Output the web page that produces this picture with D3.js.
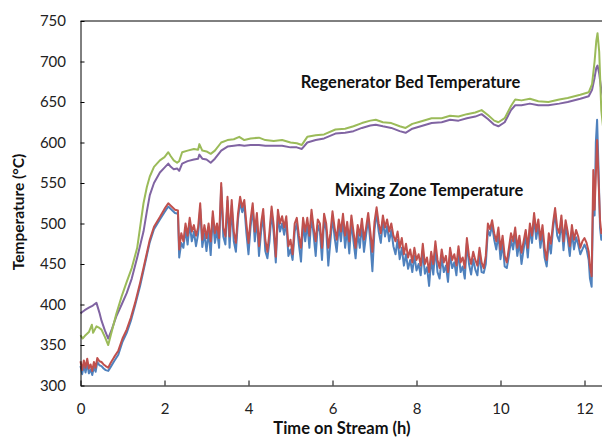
<!DOCTYPE html>
<html>
<head>
<meta charset="utf-8">
<script src="https://cdn.jsdelivr.net/npm/d3@7"></script>
<style>
  body { margin: 0; background: #fff; }
  svg { display: block; font-family: Lato, "Open Sans", sans-serif; }
  .tick text { font-size: 15px; fill: #222; }
  .axis-label, .series-label { font-weight: bold; font-size: 16.5px; fill: #111; }
</style>
</head>
<body>
<div id="chart"></div>
<script>
// Regenerator bed: shared sample times (h), green and purple thermocouples (°C)
const bedTime = [
  0, 0.05, 0.1, 0.2, 0.27, 0.3, 0.38, 0.45, 0.5, 0.58,
  0.66, 0.75, 0.85, 0.98, 1.1, 1.22, 1.35, 1.5, 1.58, 1.65,
  1.75, 1.89, 2.0, 2.09, 2.15, 2.22, 2.3, 2.35, 2.42, 2.55,
  2.7, 2.8, 2.83, 2.9, 3.0, 3.1, 3.2, 3.35, 3.5, 3.65,
  3.78, 3.9, 4.05, 4.25, 4.4, 4.6, 4.8, 5.0, 5.15, 5.27,
  5.4, 5.6, 5.8, 6.07, 6.3, 6.5, 6.7, 6.9, 7.03, 7.2,
  7.4, 7.6, 7.74, 7.9, 8.1, 8.36, 8.6, 8.8, 9.0, 9.2,
  9.4, 9.55, 9.7, 9.85, 9.95, 10.1, 10.25, 10.35, 10.5, 10.7,
  10.9, 11.14, 11.4, 11.6, 11.9, 12.1, 12.18, 12.24, 12.28, 12.31,
  12.35, 12.4, 12.45, 12.5
];
const bedGreen = [
  362, 358, 361, 366, 375, 365, 373, 371, 369, 360,
  350, 368, 388, 410, 428, 445, 470, 525, 545, 558,
  570, 578, 582, 588, 583, 578, 575, 577, 588, 590,
  592, 591, 598, 590, 589, 586, 590, 600, 603, 604,
  607, 603, 605, 606, 603, 602, 603, 600, 599, 597,
  607, 609, 610, 616, 617, 620, 624, 627, 628, 625,
  624, 620, 618, 623, 626, 630, 630, 633, 632, 635,
  637, 640, 634, 627, 625, 630, 645, 653, 652, 654,
  651, 650, 653, 655, 659, 662, 672, 700, 725, 735,
  712, 640, 615, 610
];
const bedPurple = [
  389, 391, 393, 396, 398, 399, 402, 390, 380, 368,
  358, 370, 385, 400, 414, 432, 458, 490, 515, 535,
  550, 563, 569, 574, 570, 567, 568, 565, 574, 577,
  579, 580, 585, 580, 579, 575, 580, 590, 595, 596,
  597, 596, 597, 597, 596, 596, 596, 594, 594, 592,
  600, 603, 605, 611, 612, 614, 618, 621, 622, 620,
  618, 614, 612, 617, 620, 624, 625, 628, 627, 630,
  632, 635, 629, 622, 620, 625, 640, 646, 646, 648,
  646, 646, 648, 650, 654, 657, 665, 680, 692, 695,
  685, 665, 655, 650
];

// Mixing zone: shared sample times (h), blue and red thermocouples (°C)
const mixTime = [
  0, 0.04, 0.08, 0.12, 0.16, 0.2, 0.24, 0.28, 0.32, 0.36,
  0.4, 0.45, 0.5, 0.55, 0.6, 0.66, 0.72, 0.8, 0.9, 1.0,
  1.1, 1.2, 1.3, 1.42, 1.5, 1.65, 1.75, 1.89, 2.0, 2.09,
  2.15, 2.25, 2.32,
  2.35, 2.4, 2.45, 2.5, 2.55, 2.6, 2.65, 2.7, 2.75, 2.8,
  2.85, 2.9, 2.95, 3.0, 3.05, 3.1, 3.15, 3.2, 3.25, 3.3,
  3.35, 3.4, 3.45, 3.5, 3.55, 3.6, 3.65, 3.7, 3.75, 3.8,
  3.85, 3.9, 3.95, 4.0, 4.05, 4.1, 4.15, 4.2, 4.25, 4.3,
  4.35, 4.4, 4.45, 4.5, 4.55, 4.6, 4.65, 4.7, 4.75, 4.8,
  4.85, 4.9, 4.95, 5.0, 5.05, 5.1, 5.15, 5.2, 5.25, 5.3,
  5.35, 5.4, 5.45, 5.5, 5.55, 5.6, 5.65, 5.7, 5.75, 5.8,
  5.85, 5.9, 5.95, 6.0, 6.05, 6.1, 6.15, 6.2, 6.25, 6.3,
  6.35, 6.4, 6.45, 6.5, 6.55, 6.6, 6.65, 6.7, 6.75, 6.8,
  6.85, 6.9, 6.95, 7.0, 7.05, 7.1, 7.15, 7.2, 7.25, 7.3,
  7.35, 7.4, 7.45, 7.5, 7.55, 7.6, 7.65, 7.7, 7.75, 7.8,
  7.85, 7.9, 7.95, 8.0, 8.05, 8.1, 8.15, 8.2, 8.25, 8.3,
  8.35, 8.4, 8.45, 8.5, 8.55, 8.6, 8.65, 8.7, 8.75, 8.8,
  8.85, 8.9, 8.95, 9.0, 9.05, 9.1, 9.15, 9.2, 9.25, 9.3,
  9.35, 9.4, 9.45, 9.5, 9.55, 9.6, 9.65, 9.7, 9.75, 9.8,
  9.85, 9.9, 9.95, 10.0, 10.05, 10.1, 10.15, 10.2, 10.25, 10.3,
  10.35, 10.4, 10.45, 10.5, 10.55, 10.6, 10.65, 10.7, 10.75, 10.8,
  10.85, 10.9, 10.95, 11.0, 11.05, 11.1, 11.15, 11.2, 11.25, 11.3,
  11.35, 11.4, 11.45, 11.5, 11.55, 11.6, 11.65, 11.7, 11.75, 11.8,
  11.85, 11.9, 11.95, 12.0, 12.05, 12.1, 12.13, 12.17, 12.21, 12.24,
  12.27, 12.3, 12.33, 12.37, 12.4, 12.45
];
const mixRed = [
  330, 319, 331, 322, 333, 321, 326, 318, 329, 322,
  334, 330, 329, 326, 324, 322, 328, 335, 343, 358,
  369, 384, 402, 427, 445, 480, 496, 508, 518, 525,
  522, 517, 516,
  468, 488, 478, 500, 485, 507, 490, 498, 485, 495,
  525, 480, 498, 482, 500, 478, 515, 488, 500, 482,
  550, 495, 484, 533, 484, 529, 490, 476, 512, 533,
  520, 529, 500, 476, 505, 525, 490, 513, 472, 500,
  518, 480, 465, 490, 521, 498, 459, 517, 500, 509,
  495, 509, 472, 480, 462, 500, 507, 485, 470, 507,
  490, 507, 485, 517, 495, 478, 505, 500, 470, 512,
  500, 470, 488, 515, 495, 480, 505, 490, 512, 485,
  502, 478, 510, 490, 470, 498, 485, 506, 480, 495,
  513, 490, 465, 502, 520, 500, 488, 510, 495, 505,
  490, 500, 485, 478, 490, 470, 482, 462, 475, 458,
  468, 452, 470, 455, 462, 448, 475, 450, 458, 440,
  465, 450, 478, 455, 445, 468, 452, 460, 440, 470,
  455, 462, 448, 472, 452, 458, 445, 482, 460, 450,
  465, 455, 448, 470, 452, 445, 460, 500, 493, 504,
  488, 478, 495, 468, 485, 460, 452, 470, 488, 478,
  495, 470, 485, 464, 478, 492, 470, 500, 485, 513,
  490, 505, 480, 498, 470, 455, 488, 475, 500, 519,
  495, 488, 510, 478, 504, 490, 472, 498, 480, 492,
  484, 470, 478, 482, 476, 465, 447, 435, 566, 517,
  560, 603, 560, 504, 488, 495
];
const mixBlue = [
  324, 314, 325, 316, 327, 315, 320, 313, 323, 317,
  329, 325, 324, 321, 319, 318, 323, 330, 338, 354,
  365, 380, 399, 423, 442, 477, 493, 505, 514, 521,
  518, 513, 512,
  458, 476, 470, 493, 474, 500, 478, 490, 472, 487,
  518, 471, 488, 466, 490, 461, 508, 476, 492, 470,
  545, 484, 474, 528, 470, 522, 478, 465, 505, 527,
  514, 522, 488, 462, 496, 519, 478, 506, 460, 490,
  510, 466, 457, 478, 515, 488, 452, 510, 490, 500,
  486, 502, 460, 468, 455, 490, 500, 474, 453, 500,
  478, 500, 470, 510, 486, 460, 498, 490, 455, 505,
  492, 448, 478, 508, 483, 465, 497, 478, 505, 470,
  493, 463, 503, 478, 457, 489, 470, 499, 465, 486,
  506, 478, 441, 492, 514, 490, 476, 503, 484, 497,
  478, 492, 472, 462, 480, 456, 470, 448, 462, 444,
  455, 440, 460, 442, 450, 436, 466, 438, 446, 423,
  456, 437, 470, 440, 432, 458, 440, 448, 428, 462,
  445, 452, 436, 465, 440, 447, 432, 476, 450, 437,
  456, 443, 436, 462, 440, 439, 450, 492, 485, 498,
  480, 468, 487, 456, 476, 447, 445, 460, 480, 468,
  487, 460, 477, 450, 468, 485, 458, 493, 476, 507,
  481, 498, 470, 490, 458, 447, 478, 463, 493, 513,
  485, 478, 504, 467, 498, 481, 460, 490, 468, 483,
  474, 462, 468, 474, 468, 455, 432, 422, 540, 510,
  600, 628, 575, 495, 480, 488
];

const xTicks = [0, 2, 4, 6, 8, 10, 12];
const yTicks = [300, 350, 400, 450, 500, 550, 600, 650, 700, 750];

const width = 602, height = 439;
const plot = { left: 80.5, right: 605.5, top: 21, bottom: 385.5 };

const svg = d3.select("#chart")
  .append("svg")
  .attr("width", width)
  .attr("height", height);

const xScale = d3.scaleLinear().domain([0, 12.5]).range([plot.left, plot.right]);
const yScale = d3.scaleLinear().domain([300, 750]).range([plot.bottom, plot.top]);

// series, drawn back to front
const series = [
  { time: bedTime, values: bedPurple, color: "#8064A2", w: 2 },
  { time: bedTime, values: bedGreen, color: "#9BBB59", w: 2 },
  { time: mixTime, values: mixBlue, color: "#4F81BD", w: 2 },
  { time: mixTime, values: mixRed, color: "#C0504D", w: 2 },
];

const line = d3.line()
  .x((d) => xScale(d[0]))
  .y((d) => yScale(d[1]));

svg.selectAll(".series")
  .data(series)
  .enter()
  .append("path")
  .attr("class", "series")
  .attr("fill", "none")
  .attr("stroke", (s) => s.color)
  .attr("stroke-width", (s) => s.w)
  .attr("stroke-linejoin", "round")
  .attr("d", (s) => line(s.time.map((t, i) => [t, s.values[i]])));

// top border of plot area
svg.append("line")
  .attr("x1", plot.left).attr("x2", plot.right)
  .attr("y1", plot.top).attr("y2", plot.top)
  .attr("stroke", "#000");

// axes (ticks point inward)
svg.append("g")
  .attr("class", "axis y-axis")
  .attr("transform", `translate(${plot.left},0)`)
  .call(d3.axisLeft(yScale).tickValues(yTicks).tickSizeInner(-4).tickSizeOuter(0).tickPadding(14.5));

svg.append("g")
  .attr("class", "axis x-axis")
  .attr("transform", `translate(0,${plot.bottom})`)
  .call(d3.axisBottom(xScale).tickValues(xTicks).tickSizeInner(-5).tickSizeOuter(0).tickPadding(18));

svg.selectAll(".axis .domain, .axis .tick line").attr("stroke", "#000");
svg.selectAll(".axis").attr("font-family", null).attr("font-size", null);

// axis titles
svg.append("text")
  .attr("class", "axis-label")
  .attr("x", 342)
  .attr("y", 434)
  .attr("text-anchor", "middle")
  .text("Time on Stream (h)");

svg.append("text")
  .attr("class", "axis-label")
  .attr("transform", "rotate(-90)")
  .attr("x", -212)
  .attr("y", 24)
  .attr("text-anchor", "middle")
  .style("font-size", "15.5px")
  .text("Temperature (°C)");

// in-plot series labels
svg.append("text")
  .attr("class", "series-label")
  .attr("x", 410.5)
  .attr("y", 87.5)
  .attr("text-anchor", "middle")
  .text("Regenerator Bed Temperature");

svg.append("text")
  .attr("class", "series-label")
  .attr("x", 429)
  .attr("y", 196)
  .attr("text-anchor", "middle")
  .text("Mixing Zone Temperature");
</script>
</body>
</html>
